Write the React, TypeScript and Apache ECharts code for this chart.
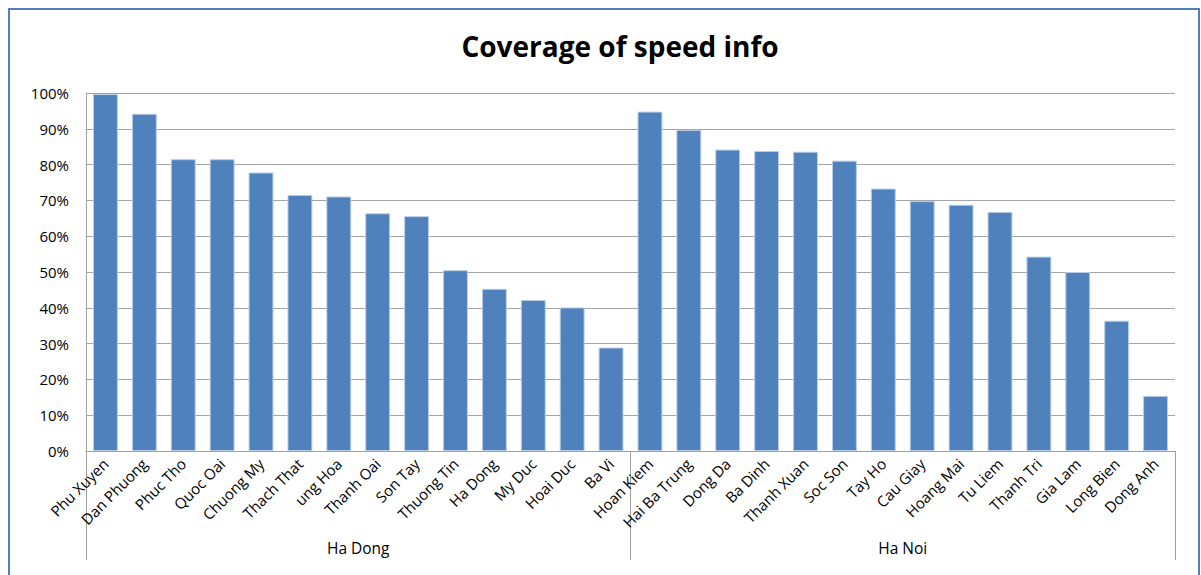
import React, { useEffect, useRef } from "react";
import * as echarts from "echarts";

const titleText = "Coverage of speed info";
const groups = ["Ha Dong", "Ha Noi"];
const haDongDistricts = [
  "Phu Xuyen", "Dan Phuong", "Phuc Tho", "Quoc Oai", "Chuong My", "Thach That", "ung Hoa",
  "Thanh Oai", "Son Tay", "Thuong Tin", "Ha Dong", "My Duc", "Hoai Duc", "Ba Vi",
];
const haDongValues = [99.7, 94.2, 81.5, 81.5, 77.8, 71.5, 71.1, 66.4, 65.6, 50.5, 45.3, 42.2, 40.1, 28.9];
const haNoiDistricts = [
  "Hoan Kiem", "Hai Ba Trung", "Dong Da", "Ba Dinh", "Thanh Xuan", "Soc Son", "Tay Ho",
  "Cau Giay", "Hoang Mai", "Tu Liem", "Thanh Tri", "Gia Lam", "Long Bien", "Dong Anh",
];
const haNoiValues = [94.8, 89.7, 84.2, 83.8, 83.6, 81.1, 73.3, 69.8, 68.8, 66.8, 54.3, 50.0, 36.4, 15.4];
const yMin = 0;
const yMax = 100;
const yInterval = 10;

const FONT = "'Open Sans', 'Noto Sans', sans-serif";

export default function App() {
  const ref = useRef<HTMLDivElement>(null);
  useEffect(() => {
    if (!ref.current) return;
    const chart = echarts.init(ref.current, undefined, { renderer: "svg" });
    const categories = [...haDongDistricts, ...haNoiDistricts];
    const values = [...haDongValues, ...haNoiValues];
    chart.setOption({
      animation: false,
      backgroundColor: "#ffffff",
      title: {
        text: titleText,
        left: 615,
        top: 27,
        textAlign: "center",
        textStyle: { fontFamily: FONT, fontSize: 28, fontWeight: "bold", color: "#000000" },
      },
      graphic: [
        {
          type: "rect",
          z: -1,
          shape: { x: 9, y: 9, width: 1190, height: 700 },
          style: { fill: "none", stroke: "#4f81bd", lineWidth: 2 },
        },
      ],
      grid: { left: 86, right: 26, top: 93, bottom: 124, containLabel: false },
      xAxis: [
        {
          type: "category",
          data: categories,
          axisLine: { show: true, lineStyle: { color: "#a0a0a0", width: 1 } },
          axisTick: { show: false },
          axisLabel: {
            interval: 0,
            rotate: 45,
            margin: 10,
            fontFamily: FONT,
            fontSize: 15,
            color: "#000000",
          },
        },
        {
          type: "category",
          data: groups,
          position: "bottom",
          axisLine: { show: false },
          axisTick: { show: true, length: 109, interval: 0, lineStyle: { color: "#a0a0a0", width: 1 } },
          axisLabel: { interval: 0, margin: 89, fontFamily: FONT, fontSize: 15.5, color: "#000000" },
          splitLine: { show: false },
        },
      ],
      yAxis: {
        type: "value",
        min: yMin,
        max: yMax,
        interval: yInterval,
        axisLine: { show: true, lineStyle: { color: "#a0a0a0", width: 1 } },
        axisTick: { show: false },
        axisLabel: { formatter: "{value}%", margin: 17, fontFamily: FONT, fontSize: 15, color: "#000000" },
        splitLine: { show: true, lineStyle: { color: "#a5a5a5", width: 1 } },
      },
      series: [
        {
          type: "bar",
          xAxisIndex: 0,
          data: values,
          barWidth: "64%",
          itemStyle: { color: "#4f81bd", borderColor: "#b9cde6", borderWidth: 1 },
        },
      ],
    });
    return () => chart.dispose();
  }, []);
  return (
    <div
      ref={ref}
      style={{ position: "fixed", left: 0, top: 0, width: 1201, height: 575, background: "#fff" }}
    />
  );
}
